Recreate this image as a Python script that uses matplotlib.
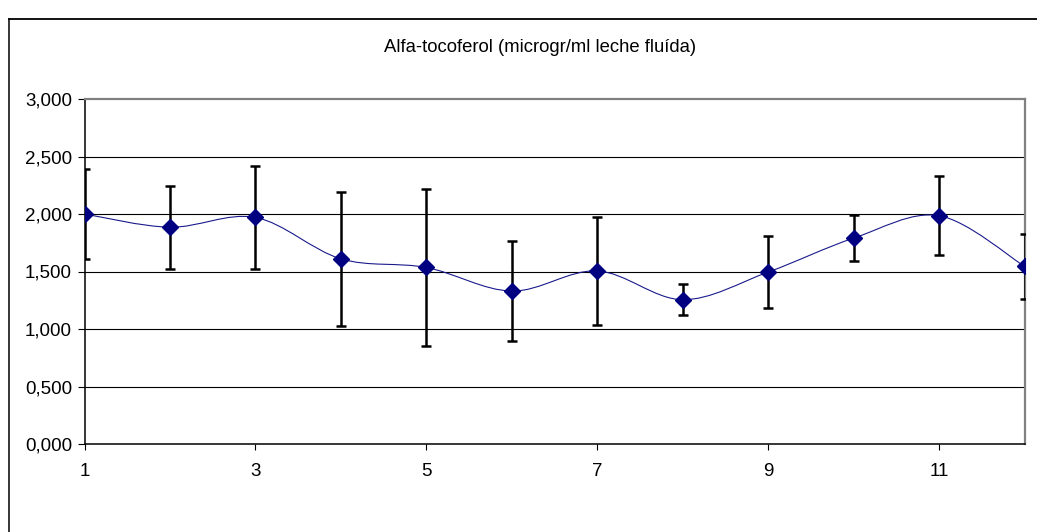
import numpy as np
import matplotlib.pyplot as plt
from matplotlib.path import Path
from matplotlib.patches import PathPatch
from matplotlib.lines import Line2D
from matplotlib.ticker import FuncFormatter

# Alfa-tocoferol, mean and deviation per sample
muestra = [1, 2, 3, 4, 5, 6, 7, 8, 9, 10, 11, 12]
media = [2.00, 1.885, 1.97, 1.61, 1.535, 1.33, 1.505, 1.255, 1.495, 1.79, 1.985, 1.545]
desv = [0.39, 0.36, 0.45, 0.58, 0.68, 0.435, 0.47, 0.135, 0.31, 0.20, 0.345, 0.28]

titulo = "Alfa-tocoferol (microgr/ml leche fluída)"
y_ticks = [0.0, 0.5, 1.0, 1.5, 2.0, 2.5, 3.0]
x_ticks = [1, 3, 5, 7, 9, 11]

W, H, DPI = 1037, 532, 100
plt.rcParams['font.family'] = ['Liberation Sans', 'DejaVu Sans']

fig = plt.figure(figsize=(W / DPI, H / DPI), dpi=DPI)
ax = fig.add_axes([84.5 / W, 1 - 444 / H, (1024.5 - 84.5) / W, (444 - 99) / H])


def smooth_path(xs, ys):
    # cubic bezier segments through every point (Catmull-Rom style tangents)
    p = np.column_stack([xs, ys]).astype(float)
    n = len(p)
    verts = [p[0]]
    codes = [Path.MOVETO]
    for i in range(n - 1):
        p0 = p[i - 1] if i > 0 else p[i]
        p3 = p[i + 2] if i + 2 < n else p[i + 1]
        c1 = p[i] + (p[i + 1] - p0) / 6.0
        c2 = p[i + 1] - (p3 - p[i]) / 6.0
        verts += [c1, c2, p[i + 1]]
        codes += [Path.CURVE4] * 3
    return Path(verts, codes)


ax.add_patch(PathPatch(smooth_path(muestra, media), fill=False,
                       edgecolor='#1a1a8c', lw=0.8, zorder=3))

ax.errorbar(muestra, media, yerr=desv, fmt='none', ecolor='black',
            elinewidth=1.8, capsize=3.8, capthick=1.8, zorder=4)
ax.plot(muestra, media, linestyle='none', marker='D', markersize=8,
        color='#000080', zorder=5)

ax.set_xlim(1, 12)
ax.set_ylim(0, 3)
ax.set_xticks(x_ticks)
ax.set_yticks(y_ticks)
ax.yaxis.set_major_formatter(FuncFormatter(lambda v, _: f"{v:.3f}".replace('.', ',')))

for v in y_ticks[1:-1]:
    ax.axhline(v, color='black', lw=0.8, zorder=1)

ax.spines['left'].set_color('black')
ax.spines['bottom'].set_color('black')
ax.spines['left'].set_linewidth(1.1)
ax.spines['bottom'].set_linewidth(1.1)
ax.spines['top'].set_color('#808080')
ax.spines['right'].set_color('#808080')
ax.spines['top'].set_linewidth(1.6)
ax.spines['right'].set_linewidth(1.6)

ax.tick_params(axis='y', direction='out', length=5, width=0.8, pad=4, labelsize=13.5)
ax.tick_params(axis='x', direction='out', length=4, width=0.8, pad=10, labelsize=13.5)

fig.text(540 / W, 1 - 47 / H, titulo, ha='center', va='center', fontsize=13.3)

# chart frame (left and top edges)
fx, fy = 8.5 / W, 1 - 18.5 / H
fig.add_artist(Line2D([fx, fx], [0, fy], transform=fig.transFigure, color='black', lw=1.1))
fig.add_artist(Line2D([fx, 1], [fy, fy], transform=fig.transFigure, color='black', lw=1.3))

fig.savefig('out.png', dpi=DPI)
